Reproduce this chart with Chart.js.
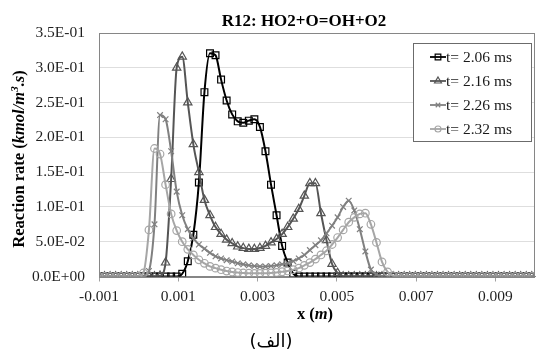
<!DOCTYPE html>
<html>
<head>
<meta charset="utf-8">
<script src="https://cdn.jsdelivr.net/npm/chart.js@4/dist/chart.umd.min.js"></script>
<style>
html, body { margin: 0; padding: 0; background: #fff; }
</style>
</head>
<body>
<canvas id="rateChart" width="541" height="352"></canvas>
<script>
// x positions (m) of the mesh points
var xGrid = [
    -0.001, -0.00086, -0.00072, -0.00058, -0.00044, -0.0003, -0.00016, -0.00002, 0.00012, 0.00026,
    0.0004, 0.00054, 0.00068, 0.00082, 0.00096, 0.0011, 0.00124, 0.00138, 0.00152, 0.00166,
    0.0018, 0.00194, 0.00208, 0.00222, 0.00236, 0.0025, 0.00264, 0.00278, 0.00292, 0.00306,
    0.0032, 0.00334, 0.00348, 0.00362, 0.00376, 0.0039, 0.00404, 0.00418, 0.00432, 0.00446,
    0.0046, 0.00474, 0.00488, 0.00502, 0.00516, 0.0053, 0.00544, 0.00558, 0.00572, 0.00586,
    0.006, 0.00614, 0.00628, 0.00642, 0.00656, 0.0067, 0.00684, 0.00698, 0.00712, 0.00726,
    0.0074, 0.00754, 0.00768, 0.00782, 0.00796, 0.0081, 0.00824, 0.00838, 0.00852, 0.00866,
    0.0088, 0.00894, 0.00908, 0.00922, 0.00936, 0.0095, 0.00964, 0.00978, 0.00992
];

// reaction rate (kmol/m3.s) for each time
var rate206 = [
    0, 0, 0, 0, 0, 0, 0, 0, 0, 0,
    0, 0, 0, 0, 0, 0.004, 0.022, 0.06, 0.135, 0.265,
    0.321, 0.318, 0.283, 0.253, 0.233, 0.223, 0.221, 0.224, 0.226, 0.215,
    0.18, 0.132, 0.088, 0.044, 0.02, 0.004, 0, 0, 0, 0,
    0, 0, 0, 0, 0, 0, 0, 0, 0, 0,
    0, 0, 0, 0, 0, 0, 0, 0, 0, 0,
    0, 0, 0, 0, 0, 0, 0, 0, 0, 0,
    0, 0, 0, 0, 0, 0, 0, 0, 0
];
var rate216 = [
    0, 0, 0, 0, 0, 0, 0, 0, 0, 0,
    0, 0.001, 0.02, 0.14, 0.3, 0.316, 0.25, 0.19, 0.15, 0.11,
    0.088, 0.071, 0.061, 0.053, 0.0477, 0.043, 0.0408, 0.0397, 0.0395, 0.041,
    0.044, 0.049, 0.054, 0.061, 0.071, 0.083, 0.097, 0.116, 0.134, 0.134,
    0.091, 0.052, 0.018, 0.005, 0, 0, 0, 0, 0, 0,
    0, 0, 0, 0, 0, 0, 0, 0, 0, 0,
    0, 0, 0, 0, 0, 0, 0, 0, 0, 0,
    0, 0, 0, 0, 0, 0, 0, 0, 0
];
var rate226 = [
    0, 0, 0, 0, 0, 0, 0, 0, 0, 0.008,
    0.075, 0.232, 0.226, 0.18, 0.122, 0.088, 0.068, 0.055, 0.046, 0.04,
    0.034, 0.029, 0.026, 0.0235, 0.0215, 0.019, 0.0175, 0.016, 0.015, 0.0145,
    0.0145, 0.015, 0.016, 0.0175, 0.0195, 0.022, 0.026, 0.031, 0.038, 0.045,
    0.052, 0.062, 0.073, 0.085, 0.1, 0.109, 0.095, 0.068, 0.036, 0.01,
    0.003, 0, 0, 0, 0, 0, 0, 0, 0, 0,
    0, 0, 0, 0, 0, 0, 0, 0, 0, 0,
    0, 0, 0, 0, 0, 0, 0, 0, 0
];
var rate232 = [
    0, 0, 0, 0, 0, 0, 0, 0, 0.005, 0.067,
    0.184, 0.176, 0.132, 0.09, 0.066, 0.05, 0.039, 0.031, 0.024, 0.019,
    0.0145, 0.012, 0.0098, 0.0078, 0.0065, 0.0057, 0.005, 0.0047, 0.0045, 0.0045,
    0.0047, 0.005, 0.0058, 0.0068, 0.008, 0.0098, 0.012, 0.016, 0.02, 0.025,
    0.031, 0.037, 0.046, 0.056, 0.067, 0.078, 0.085, 0.09, 0.091, 0.075,
    0.049, 0.021, 0.0065, 0.001, 0, 0, 0, 0, 0, 0,
    0, 0, 0, 0, 0, 0, 0, 0, 0, 0,
    0, 0, 0, 0, 0, 0, 0, 0, 0
];

var seriesNames = ['t= 2.06 ms', 't= 2.16 ms', 't= 2.26 ms', 't= 2.32 ms'];
var seriesColors = ['#000000', '#555555', '#808080', '#a6a6a6'];
var seriesMarkers = ['rect', 'triangle', 'crossRot', 'circle'];
var markerSizes = [4.8, 4.8, 4, 3.8];

var xTickVals = [-0.001, 0.001, 0.003, 0.005, 0.007, 0.009];
var xTickLabels = ['-0.001', '0.001', '0.003', '0.005', '0.007', '0.009'];
var yTickVals = [0, 0.05, 0.1, 0.15, 0.2, 0.25, 0.3, 0.35];
var yTickLabels = ['0.0E+00', '5.0E-02', '1.0E-01', '1.5E-01', '2.0E-01', '2.5E-01', '3.0E-01', '3.5E-01'];

var serif = "'Liberation Serif', 'DejaVu Serif', serif";

function toPoints(ys) {
    var pts = [];
    for (var i = 0; i < xGrid.length; i++) {
        pts.push({ x: xGrid[i], y: ys[i] });
    }
    return pts;
}

var allRates = [rate206, rate216, rate226, rate232];
var datasets = [];
for (var s = 0; s < allRates.length; s++) {
    datasets.push({
        label: seriesNames[s],
        data: toPoints(allRates[s]),
        borderColor: seriesColors[s],
        borderWidth: 2,
        pointStyle: seriesMarkers[s],
        pointRadius: markerSizes[s],
        pointBorderWidth: 1.2,
        pointBorderColor: seriesColors[s],
        pointBackgroundColor: 'rgba(0,0,0,0)',
        cubicInterpolationMode: 'monotone',
        order: allRates.length - s   // first series drawn underneath, like Excel
    });
}

// draw text pieces with different fonts one after another
function drawRuns(ctx, runs, x, y) {
    var total = 0;
    runs.forEach(function(r) { ctx.font = r.font; total += ctx.measureText(r.text).width; });
    var cx = x - total / 2;
    runs.forEach(function(r) {
        ctx.font = r.font;
        ctx.fillText(r.text, cx, y + (r.dy || 0));
        cx += ctx.measureText(r.text).width;
    });
}

var extras = {
    id: 'extras',
    afterDraw: function(chart) {
        var ctx = chart.ctx;
        var a = chart.chartArea;
        ctx.save();

        // plot frame
        ctx.strokeStyle = '#868686';
        ctx.lineWidth = 1;
        ctx.strokeRect(Math.round(a.left) + 0.5, Math.round(a.top) + 0.5, Math.round(a.right - a.left) - 1, Math.round(a.bottom - a.top));

        ctx.fillStyle = '#000';
        ctx.textBaseline = 'middle';
        ctx.textAlign = 'left';

        // chart title
        drawRuns(ctx, [{ text: 'R12: HO2+O=OH+O2', font: 'bold 17px ' + serif }], 304, 22);

        // x axis title
        drawRuns(ctx, [
            { text: 'x (', font: 'bold 16.5px ' + serif },
            { text: 'm', font: 'italic bold 16.5px ' + serif },
            { text: ')', font: 'bold 16.5px ' + serif }
        ], 315, 315);

        // y axis title
        ctx.save();
        ctx.translate(20, 159);
        ctx.rotate(-Math.PI / 2);
        drawRuns(ctx, [
            { text: 'Reaction rate (', font: 'bold 16.5px ' + serif },
            { text: 'kmol/m', font: 'italic bold 16.5px ' + serif },
            { text: '3', font: 'italic bold 11px ' + serif, dy: -5 },
            { text: '.s', font: 'italic bold 16.5px ' + serif },
            { text: ')', font: 'bold 16.5px ' + serif }
        ], 0, 0);
        ctx.restore();

        // caption
        ctx.textAlign = 'center';
        ctx.font = "18px 'DejaVu Sans', sans-serif";
        ctx.fillText('(الف)', 271, 342);

        // legend box
        ctx.fillStyle = '#fff';
        ctx.fillRect(413.5, 43.5, 118, 98);
        ctx.strokeStyle = '#6b6b6b';
        ctx.lineWidth = 1;
        ctx.strokeRect(413.5, 43.5, 118, 98);
        var rowY = [57, 81, 105, 129];
        for (var i = 0; i < seriesNames.length; i++) {
            ctx.strokeStyle = seriesColors[i];
            ctx.lineWidth = 1.8;
            ctx.beginPath();
            ctx.moveTo(430, rowY[i]);
            ctx.lineTo(446, rowY[i]);
            ctx.stroke();
            ctx.lineWidth = 1.2;
            ctx.fillStyle = 'rgba(0,0,0,0)';
            Chart.helpers.drawPoint(ctx, { pointStyle: seriesMarkers[i], radius: markerSizes[i] - 0.8, borderWidth: 1.2, rotation: 0 }, 438, rowY[i]);
            ctx.fillStyle = '#1a1a1a';
            ctx.textAlign = 'left';
            ctx.font = '15.5px ' + serif;
            ctx.fillText(seriesNames[i], 446, rowY[i] + 1);
        }
        ctx.restore();
    }
};

var ctx = document.getElementById('rateChart').getContext('2d');
var chart1 = new Chart(ctx, {
    type: 'line',
    data: { datasets: datasets },
    options: {
        responsive: false,
        animation: false,
        devicePixelRatio: 1,
        layout: { padding: { top: 33, right: 2, left: 0, bottom: 0 } },
        plugins: {
            legend: { display: false },
            title: { display: false },
            tooltip: { enabled: false }
        },
        scales: {
            x: {
                type: 'linear',
                min: -0.001,
                max: 0.01,
                afterBuildTicks: function(scale) {
                    scale.ticks = xTickVals.map(function(v) { return { value: v }; });
                },
                afterFit: function(scale) { scale.height = 75.5; },
                ticks: {
                    padding: 6,
                    color: '#1f1f1f',
                    font: { family: serif, size: 15.5 },
                    maxRotation: 0,
                    callback: function(v, i) { return xTickLabels[i]; }
                },
                grid: { drawOnChartArea: false, drawTicks: true, tickLength: 5, color: '#a0a0a0' },
                border: { display: true, color: '#868686' }
            },
            y: {
                min: 0,
                max: 0.35,
                afterBuildTicks: function(scale) {
                    scale.ticks = yTickVals.map(function(v) { return { value: v }; });
                },
                afterFit: function(scale) { scale.width = 99; },
                ticks: {
                    padding: 14,
                    color: '#1f1f1f',
                    font: { family: serif, size: 15.5 },
                    callback: function(v, i) { return yTickLabels[i]; }
                },
                grid: { color: '#dedede', drawTicks: false },
                border: { display: true, color: '#868686' }
            }
        }
    },
    plugins: [extras]
});
</script>
</body>
</html>
